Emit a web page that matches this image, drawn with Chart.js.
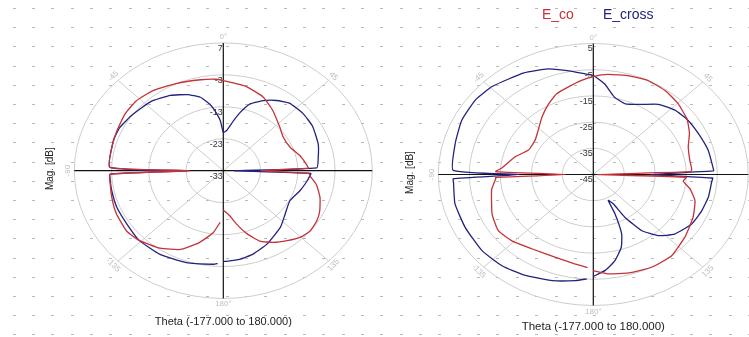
<!DOCTYPE html>
<html lang="en">
<head>
<meta charset="UTF-8">
<title>Pattern cuts</title>
<script src="https://cdn.jsdelivr.net/npm/chart.js"></script>
<style>
  body { margin: 0; background: #fff; }
  #wrap { position: relative; width: 749px; height: 337px; overflow: hidden; }
  canvas { position: absolute; top: 0; }
  #chartL { left: 0; }
  #chartR { left: 375px; }
</style>
</head>
<body>
<div id="wrap">
  <canvas id="chartL" width="375" height="337"></canvas>
  <canvas id="chartR" width="374" height="337"></canvas>
</div>
<script>
// left cut, magnitude in dB vs theta in degrees
const thetaLeftCo = [-177, -172, -164, -155, -145, -134, -126, -115, -106, -96, -92, -90, -88, -76, -66, -56, -47, -37, -25, -12, -4, 0, 13, 25, 35, 48, 57, 68, 77, 85, 88, 90, 92, 94, 100, 108, 116, 122, 129, 135, 142, 149, 156, 162, 168, 173, 178, 180];
const magLeftCo   = [-16.8, -13.4, -9.6, -5.8, -3.4, -1.6, -0.9, -1.3, -1.9, -2.4, -2.6, -24, -2.5, -2.2, -1.8, -1.2, -1.0, -1.6, -2.9, -3.9, -4.3, -4.8, -5.9, -7.6, -9.9, -12.6, -13.8, -13.6, -11.9, -10.6, -10.2, -23, -10, -9.7, -7.6, -5.7, -4.2, -3.4, -3.0, -3.6, -5.2, -6.8, -8.9, -12.2, -15.9, -18.8, -20.2, -20.5];

const thetaLeftCross = [-177, -175, -161, -147, -134, -123, -112, -102, -95, -92, -90, -88, -72, -64, -54, -42, -31, -22, -15, -10, -7, -3, 0, 4, 10, 14, 19, 26, 33, 40, 50, 60, 72, 81, 88, 90, 92, 94, 99, 107, 118, 129, 139, 153, 163, 171, 179, 180];
const magLeftCross   = [-3.9, -3.6, -2.6, -1.8, -1.6, -2.2, -2.2, -2.4, -2.5, -2.6, -23.6, -2.6, -2.0, -2.1, -3.0, -3.9, -5.5, -7.3, -9.2, -11.8, -14.0, -17.3, -21.0, -20.4, -17.1, -14.2, -10.9, -8.6, -6.8, -5.4, -5.1, -5.3, -6.2, -7.2, -7.9, -30, -9.5, -9.7, -10.4, -11.5, -12.8, -11.6, -9.6, -7.2, -5.7, -4.9, -4.6, -4.6];

// right cut
const thetaRightCo = [-177, -170, -159, -145, -134, -125, -115, -100, -93, -92, -90, -88, -85, -75, -66, -55, -47, -37, -28, -21, -14, -6, 0, 7, 17, 26, 36, 45, 55, 63, 71, 80, 86, 88, 90, 92, 95, 100, 107, 117, 129, 141, 152, 163, 173, 179, 180];
const magRightCo   = [-9.4, -10.4, -11.1, -10.4, -8.5, -7.6, -9.0, -11.7, -13.5, -13.5, -36, -13.5, -15.5, -18.9, -22.1, -22.1, -20.6, -17.5, -14.4, -12.0, -10.7, -8.9, -7.6, -6.5, -5.6, -5.0, -5.5, -6.5, -8.1, -10.2, -12.6, -13.4, -13.2, -13.5, -43.5, -15, -15.9, -13.3, -10.7, -8.9, -7.0, -5.0, -4.9, -5.7, -6.8, -8.1, -8.3];

const thetaRightCross = [-177, -172, -162, -150, -140, -129, -116, -104, -94, -92, -90, -88, -75, -64, -53, -44, -30, -20, -12, -4, 0, 6, 13, 21, 30, 38, 47, 56, 65, 76, 87, 88, 90, 92, 94, 103, 112, 121, 131, 138, 144, 148, 150, 154, 155, 158, 162, 168, 174, 180];
const magRightCross   = [-5.1, -4.1, -2.4, -0.6, 0.6, 1.2, 1.0, 1.0, 0.2, 0.2, -21, 0.2, 1.1, 2.2, 2.5, 1.8, -0.2, -2.1, -4.5, -6.5, -7.2, -10.2, -14.7, -16.1, -14.1, -11.0, -9.0, -8.1, -7.7, -6.8, -6.2, -6.2, -26.5, -6.5, -6.7, -6.9, -7.4, -8.1, -10.3, -13.6, -18.6, -25.8, -32.1, -34, -28.4, -20.6, -15.8, -11.4, -8.2, -6.1];

// radial ticks (dB) for each plot
const ringsLeft  = [7, -3, -13, -23, -33];
const ringsRight = [5, -5, -15, -25, -35, -45];
const angleTicks = [0, 45, 90, 135, 180, -135, -90, -45];
const seriesNames = ['E_co', 'E_cross'];
const axisTitle = 'Mag. [dB]';
const thetaTitle = 'Theta (-177.000 to 180.000)';

const RED = '#c4323a';
const BLUE = '#222280';

// polar (deg, dB) -> unit-circle x/y, 0 deg at top, clockwise
function toXY(thetas, mags, rings) {
  const top = rings[0], bottom = rings[rings.length - 1];
  return thetas.map((t, i) => {
    const f = Math.max(0, (mags[i] - bottom) / (top - bottom));
    const a = t * Math.PI / 180;
    return { x: f * Math.sin(a), y: f * Math.cos(a) };
  });
}

const polarFrame = {
  id: 'polarFrame',
  beforeDatasetsDraw(chart, args, o) {
    const ctx = chart.ctx;
    const xs = chart.scales.x, ys = chart.scales.y;
    const cx = xs.getPixelForValue(0), cy = ys.getPixelForValue(0);
    const rx = xs.getPixelForValue(1) - cx, ry = cy - ys.getPixelForValue(1);
    const rings = o.rings, n = rings.length - 1;
    ctx.save();

    // dotted paper
    ctx.fillStyle = '#b9b9b9';
    for (let gx = 12.7; gx < 760; gx += 19.35) {
      for (let gy = 8; gy < 340; gy += 19.2) {
        const px = Math.round(gx - o.offsetX);
        if (px < -4 || px > chart.width) continue;
        ctx.fillRect(px, Math.round(gy), 3, 1);
      }
    }

    // rings
    ctx.strokeStyle = '#cdcdcd';
    ctx.lineWidth = 1;
    for (let i = 1; i <= n; i++) {
      ctx.beginPath();
      ctx.ellipse(cx, cy, rx * i / n, ry * i / n, 0, 0, Math.PI * 2);
      ctx.stroke();
    }
    // diagonal spokes
    for (const a of [45, 135, -45, -135]) {
      const r = a * Math.PI / 180;
      ctx.beginPath();
      ctx.moveTo(cx, cy);
      ctx.lineTo(cx + rx * Math.sin(r), cy - ry * Math.cos(r));
      ctx.stroke();
    }
    // main axes
    ctx.strokeStyle = '#111';
    ctx.lineWidth = 1.2;
    ctx.beginPath();
    ctx.moveTo(cx, cy - ry); ctx.lineTo(cx, cy + ry);
    ctx.moveTo(cx - rx, cy); ctx.lineTo(Math.min(chart.width, cx + rx), cy);
    ctx.stroke();

    // angle labels
    ctx.fillStyle = '#bdbdbd';
    ctx.font = '8px "Liberation Sans", Arial, sans-serif';
    ctx.textAlign = 'center';
    ctx.textBaseline = 'middle';
    for (const a of angleTicks) {
      const r = a * Math.PI / 180;
      const px = cx + rx * 1.045 * Math.sin(r), py = cy - ry * 1.045 * Math.cos(r);
      const txt = (a === 0 || a === 180) ? a + '\u00b0' : String(a);
      ctx.save();
      ctx.translate(px, py);
      if (a !== 0 && a !== 180) ctx.rotate(Math.abs(a) <= 90 ? r : r - Math.PI);
      ctx.fillText(txt, 0, 0);
      ctx.restore();
    }

    // ring values
    ctx.fillStyle = '#333';
    ctx.font = '9px "Liberation Sans", Arial, sans-serif';
    ctx.textAlign = 'right';
    ctx.textBaseline = 'top';
    rings.forEach((v, i) => {
      ctx.fillText(String(v), cx - 0.5, cy - ry * (n - i) / n + 1);
    });

    // axis titles
    ctx.fillStyle = '#222';
    ctx.font = '10px "Liberation Sans", Arial, sans-serif';
    ctx.textAlign = 'center';
    ctx.textBaseline = 'middle';
    ctx.save();
    ctx.translate(o.magX, cy - 2);
    ctx.rotate(-Math.PI / 2);
    ctx.fillText(axisTitle, 0, 0);
    ctx.restore();
    ctx.font = o.thetaFont + 'px "Liberation Sans", Arial, sans-serif';
    ctx.fillText(thetaTitle, cx, o.thetaY);

    if (o.legend) {
      ctx.font = '14px "Liberation Sans", Arial, sans-serif';
      ctx.textAlign = 'left';
      ctx.textBaseline = 'alphabetic';
      ctx.fillStyle = RED;
      ctx.fillText(seriesNames[0], o.legend[0], 19);
      ctx.fillStyle = BLUE;
      ctx.fillText(seriesNames[1], o.legend[1], 19);
    }
    ctx.restore();
  }
};

function line(points, color) {
  return {
    data: points,
    showLine: true,
    borderColor: color,
    borderWidth: 1.3,
    pointRadius: 0,
    tension: 0.15,
    fill: false
  };
}

function makeChart(id, datasets, bounds, frame) {
  return new Chart(document.getElementById(id), {
    type: 'scatter',
    data: { datasets },
    options: {
      responsive: false,
      animation: false,
      events: [],
      layout: { padding: 0 },
      scales: {
        x: { type: 'linear', display: false, min: bounds[0], max: bounds[1] },
        y: { type: 'linear', display: false, min: bounds[2], max: bounds[3] }
      },
      plugins: { legend: { display: false }, tooltip: { enabled: false }, polarFrame: frame }
    },
    plugins: [polarFrame]
  });
}

makeChart('chartL', [
  line(toXY(thetaLeftCo, magLeftCo, ringsLeft), RED),
  line(toXY(thetaLeftCross, magLeftCross, ringsLeft), BLUE)
], [-1.4987, 1.0181, -1.3013, 1.3357],
{ rings: ringsLeft, offsetX: 0, magX: 50, thetaY: 322, thetaFont: 11 });

makeChart('chartR', [
  line(toXY(thetaRightCo, magRightCo, ringsRight), RED),
  line(toXY(thetaRightCross, magRightCross, ringsRight), BLUE)
], [-1.4084, 1.0045, -1.2405, 1.3321],
{ rings: ringsRight, offsetX: 375, magX: 35, thetaY: 327, thetaFont: 11.5, legend: [167, 228] });
</script>
</body>
</html>
